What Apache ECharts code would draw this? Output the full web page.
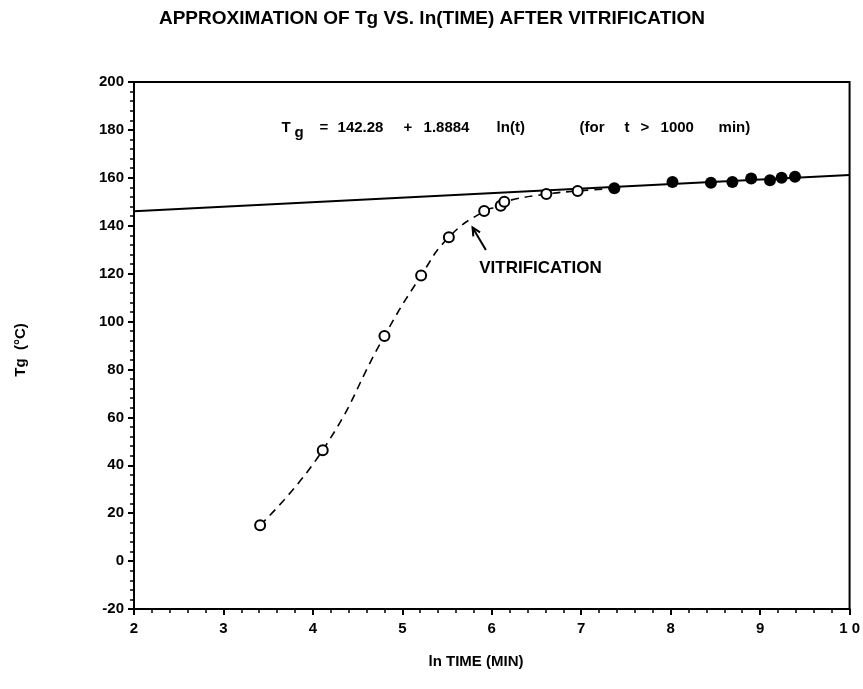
<!DOCTYPE html>
<html>
<head>
<meta charset="utf-8">
<script src="https://cdn.jsdelivr.net/npm/echarts@6/dist/echarts.min.js"></script>
<style>
  html, body { margin: 0; padding: 0; background: #fff; }
  #chart { width: 863px; height: 689px; }
</style>
</head>
<body>
<div id="chart"></div>
<script>
// Tg before vitrification (x = ln t, t in minutes)
const openLnT = [3.41, 4.11, 4.80, 5.21, 5.52, 5.915, 6.10, 6.14, 6.61, 6.96];
const openTg  = [15.0, 46.3, 94.0, 119.2, 135.2, 146.1, 148.3, 150.0, 153.2, 154.5];

// Tg after vitrification (t > 1000 min)
const vitLnT = [7.37, 8.02, 8.45, 8.69, 8.90, 9.11, 9.24, 9.39];
const vitTg  = [155.6, 158.3, 157.9, 158.3, 159.7, 159.0, 160.0, 160.4];

// Linear fit: Tg = FIT_A + FIT_B * ln(t)
const FIT_A = 142.28;
const FIT_B = 1.8884;

// Axis ranges and tick labels
const xMin = 2, xMax = 10, xStep = 1;
const yMin = -20, yMax = 200, yStep = 20;
const xTickLabels = ['2', '3', '4', '5', '6', '7', '8', '9', '1 0'];

const FONT = '"Liberation Sans", Arial, Helvetica, sans-serif';

const fitLine = [xMin, xMax].map(x => [x, FIT_A + FIT_B * x]);
const openPts = openLnT.map((x, i) => [x, openTg[i]]);
const vitPts = vitLnT.map((x, i) => [x, vitTg[i]]);
const dashedPath = openPts.concat([vitPts[0]]);

const chart = echarts.init(document.getElementById('chart'), null, { renderer: 'canvas' });

const option = {
  animation: false,
  backgroundColor: '#fff',
  grid: {
    left: 134, right: 11, top: 82, bottom: 80,
    show: true, borderColor: '#000', borderWidth: 2, backgroundColor: 'transparent'
  },
  xAxis: {
    type: 'value', min: xMin, max: xMax, interval: xStep,
    axisLine: { onZero: false, lineStyle: { color: '#000', width: 2 } },
    axisTick: { show: true, length: 6, lineStyle: { color: '#000', width: 2 } },
    minorTick: { show: true, splitNumber: 5, length: 4, lineStyle: { color: '#000', width: 1.5 } },
    splitLine: { show: false },
    axisLabel: {
      margin: 12, color: '#000', fontFamily: FONT, fontWeight: 'bold', fontSize: 15,
      formatter: v => xTickLabels[Math.round((v - xMin) / xStep)]
    }
  },
  yAxis: {
    type: 'value', min: yMin, max: yMax, interval: yStep,
    axisLine: { onZero: false, lineStyle: { color: '#000', width: 2 } },
    axisTick: { show: true, length: 6, lineStyle: { color: '#000', width: 2 } },
    minorTick: { show: true, splitNumber: 5, length: 4, lineStyle: { color: '#000', width: 1.5 } },
    splitLine: { show: false },
    axisLabel: { margin: 10, color: '#000', fontFamily: FONT, fontWeight: 'bold', fontSize: 15 }
  },
  series: [
    {
      name: 'fit', type: 'line', data: fitLine, symbol: 'none', z: 2,
      lineStyle: { color: '#000', width: 2 }
    },
    {
      name: 'trend', type: 'line', data: dashedPath, symbol: 'none', z: 2,
      smooth: 0.5,
      lineStyle: { color: '#000', width: 1.6, type: [8, 6] }
    },
    {
      name: 'before', type: 'scatter', data: openPts, symbol: 'circle', symbolSize: 10, z: 4,
      itemStyle: { color: '#fff', borderColor: '#000', borderWidth: 2, opacity: 1 }
    },
    {
      name: 'after', type: 'scatter', data: vitPts, symbol: 'circle', symbolSize: 12, z: 4,
      itemStyle: { color: '#000', opacity: 1 }
    }
  ]
};

chart.setOption(option);

// Annotations placed from data coordinates
const px = (x, y) => chart.convertToPixel({ gridIndex: 0 }, [x, y]);
const txt = (text, x, y, size, extra) => Object.assign({
  type: 'text', x: x, y: y, silent: true,
  style: Object.assign({
    text: text, fill: '#000', font: 'bold ' + size + 'px ' + FONT,
    textAlign: 'left', textVerticalAlign: 'middle'
  }, extra || {})
});

const eq = px(3.65, 181);
const eqPieces = [
  ['T', 0, 0], ['g', 13, 5], ['=', 38, 0], [String(FIT_A), 56, 0], ['+', 122, 0],
  [String(FIT_B), 142, 0], ['ln(t)', 215, 0],
  ['(for', 298, 0], ['t', 343, 0], ['>', 359, 0], ['1000', 379, 0], ['min)', 437, 0]
];
const graphics = eqPieces.map(p => txt(p[0], eq[0] + p[1], eq[1] + p[2], 15));

// VITRIFICATION label and arrow
const lab = px(5.86, 122.4);
graphics.push(txt('VITRIFICATION', lab[0], lab[1], 17));
const head = px(5.785, 139.3);
const tail = px(5.934, 129.9);
const ang = Math.atan2(tail[1] - head[1], tail[0] - head[0]);
const hl = 9, spread = 0.45;
graphics.push({
  type: 'polyline', silent: true,
  shape: { points: [tail, head] },
  style: { stroke: '#000', lineWidth: 2, fill: null }
});
graphics.push({
  type: 'polyline', silent: true,
  shape: { points: [
    [head[0] + hl * Math.cos(ang + spread), head[1] + hl * Math.sin(ang + spread)],
    head,
    [head[0] + hl * Math.cos(ang - spread), head[1] + hl * Math.sin(ang - spread)]
  ] },
  style: { stroke: '#000', lineWidth: 2, fill: null }
});

// Titles
graphics.push(txt('APPROXIMATION OF Tg VS. ln(TIME) AFTER VITRIFICATION', 432, 19, 19, { textAlign: 'center' }));
graphics.push(txt('ln TIME (MIN)', 476, 662, 15, { textAlign: 'center' }));
graphics.push(Object.assign(txt('Tg  (°C)', 0, 0, 15, { textAlign: 'center' }), {
  x: 21, y: 350, rotation: Math.PI / 2
}));

chart.setOption({ graphic: graphics });
</script>
</body>
</html>
